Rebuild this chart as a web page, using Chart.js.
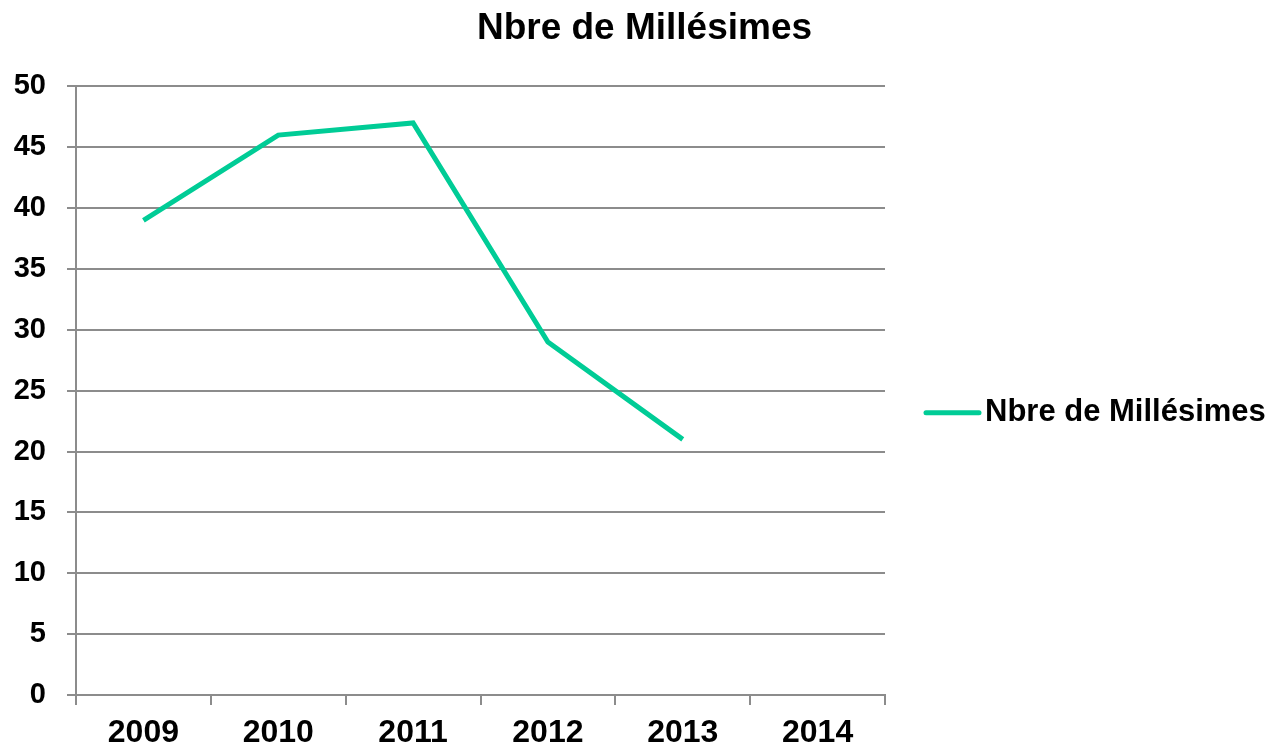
<!DOCTYPE html>
<html>
<head>
<meta charset="utf-8">
<script src="https://cdn.jsdelivr.net/npm/chart.js@4"></script>
<style>
  html, body { margin: 0; padding: 0; background: #fff; }
  #wrap { width: 1276px; height: 748px; }
</style>
</head>
<body>
<div id="wrap"><canvas id="chart"></canvas></div>
<script>
const years = ['2009', '2010', '2011', '2012', '2013', '2014'];
const millesimes = [39, 46, 47, 29, 21, null];
const seriesName = 'Nbre de Millésimes';

const font = 'Liberation Sans, Arial, sans-serif';
const gridColor = '#8c8c8c';
const lineColor = '#00cc96';

Chart.defaults.font.family = font;
Chart.defaults.color = '#000';

// legend on the right, drawn by hand so the long label is not squeezed
const sideLegend = {
  id: 'sideLegend',
  afterDraw(chart) {
    const { ctx, chartArea } = chart;
    const ds = chart.data.datasets[0];
    const y = (chartArea.top + chartArea.bottom) / 2 + 22;
    const x0 = chartArea.right + 41;
    ctx.save();
    ctx.strokeStyle = ds.borderColor;
    ctx.lineWidth = ds.borderWidth;
    ctx.lineCap = 'round';
    ctx.beginPath();
    ctx.moveTo(x0, y);
    ctx.lineTo(x0 + 53, y);
    ctx.stroke();
    ctx.fillStyle = '#000';
    ctx.font = 'bold 31px ' + font;
    ctx.textBaseline = 'middle';
    ctx.fillText(ds.label, x0 + 59, y);
    ctx.restore();
  },
};

new Chart(document.getElementById('chart').getContext('2d'), {
  type: 'line',
  data: {
    labels: years,
    datasets: [{
      label: seriesName,
      data: millesimes,
      borderColor: lineColor,
      backgroundColor: lineColor,
      borderWidth: 5,
      pointRadius: 0,
      tension: 0,
      fill: false,
    }],
  },
  options: {
    responsive: true,
    maintainAspectRatio: false,
    animation: false,
    layout: { padding: { left: 0, right: -13, top: 0, bottom: 0 } },
    plugins: {
      title: {
        display: true,
        text: seriesName,
        font: { size: 37, weight: 'bold' },
        padding: { top: 7, bottom: 35 },
      },
      legend: { display: false },
      tooltip: { enabled: false },
    },
    scales: {
      x: {
        offset: true,
        grid: {
          offset: true,
          drawOnChartArea: false,
          drawTicks: true,
          tickLength: 10,
          color: gridColor,
          lineWidth: 2,
        },
        border: { color: gridColor, width: 2 },
        ticks: { font: { size: 32, weight: 'bold' }, padding: 9 },
        afterFit: scale => { scale.height = 53; },
      },
      y: {
        min: 0,
        max: 50,
        ticks: { stepSize: 5, font: { size: 29, weight: 'bold' }, padding: 21 },
        grid: { color: gridColor, lineWidth: 2, tickLength: 9 },
        border: { color: gridColor, width: 2 },
        afterFit: scale => { scale.width = 76; },
      },
      // empty room on the right for the legend
      gap: {
        type: 'linear',
        position: 'right',
        ticks: { display: false },
        grid: { display: false },
        border: { display: false },
        afterFit: scale => { scale.width = 404; },
      },
    },
  },
  plugins: [sideLegend],
});
</script>
</body>
</html>
